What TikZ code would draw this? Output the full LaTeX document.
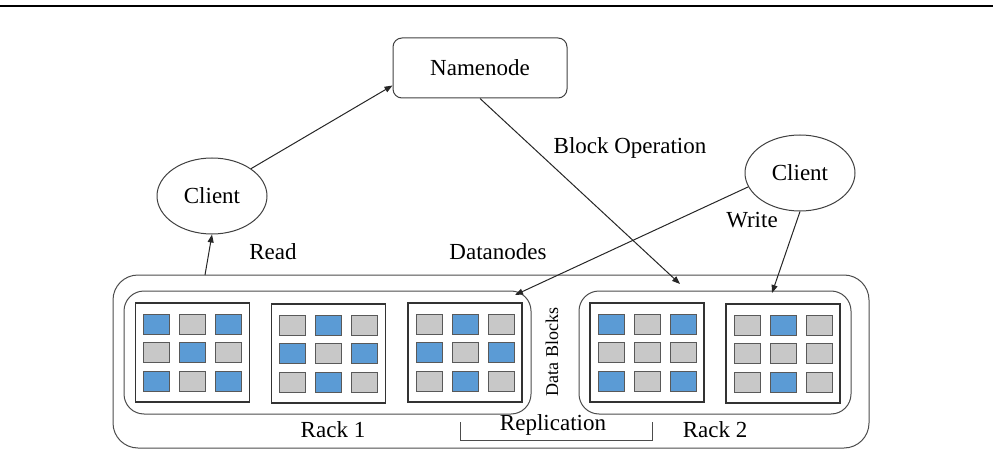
\documentclass[tikz,border=0pt]{standalone}
\usepackage{fontspec}
\setmainfont{Liberation Serif}
\usepackage{xcolor}
\usetikzlibrary{arrows.meta,shapes.geometric}
\definecolor{hb}{HTML}{5B9BD5}
\definecolor{hg}{HTML}{C8C8C8}
\tikzset{every picture/.style={line width=1pt}}
\tikzset{
  lbl/.style={font=\fontsize{23}{27}\selectfont, inner sep=0pt},
  arr/.style={draw=black!85, -{Triangle[length=8pt,width=6pt]}},
  client/.style={ellipse, draw=black!75, minimum width=110pt, minimum height=76pt, inner sep=0pt, font=\fontsize{23}{27}\selectfont},
  rack/.style={draw=black!70, rounded corners=20pt, inner sep=0pt, minimum height=123pt},
  server/.style={draw=black!80, line width=1.3pt, inner sep=0pt, minimum width=114pt, minimum height=99pt},
  blk/.style={draw=black!65, inner sep=0pt, minimum width=26pt, minimum height=20pt}
}

\begin{document}
\begin{tikzpicture}[x=1pt,y=-1pt]
\useasboundingbox (0,0) rectangle (993,457);
\draw[line width=2.2pt] (0,6) -- (993,6);
%
\node[draw=black!75, rounded corners=9pt, minimum width=174pt, minimum height=60pt, font=\fontsize{23}{27}\selectfont] (nn) at (480,68) {Namenode};
\node[client] (cl1) at (212,196) {Client};
\node[client] (cl2) at (800,173) {Client};
%
\node[draw=black!70, rounded corners=25pt, minimum width=756pt, minimum height=173pt] (hdfs) at (491,361.5) {};
\node[rack, minimum width=407pt] (rk1) at (327.5,352.5) {};
\node[rack, minimum width=272pt] (rk2) at (715,352.5) {};
%
\node[server] (s1) at (192.5,352.5) {};
\node[server] (s2) at (328.5,353.5) {};
\node[server] (s3) at (465,352.5) {};
\node[server] (s4) at (647,352.5) {};
\node[server] (s5) at (783,353.5) {};
%
\foreach \srv/\ka/\kb/\kc/\kd/\ke/\kf/\kg/\kh/\ki in {
  s1/hb/hg/hb/hg/hb/hg/hb/hg/hb,
  s2/hg/hb/hg/hb/hg/hb/hg/hb/hg,
  s3/hg/hb/hg/hb/hg/hb/hg/hb/hg,
  s4/hb/hg/hb/hg/hg/hg/hb/hg/hb,
  s5/hg/hb/hg/hg/hg/hg/hg/hb/hg}{
  \foreach \k [count=\n from 0] in {\ka,\kb,\kc,\kd,\ke,\kf,\kg,\kh,\ki}{
    \pgfmathsetmacro\dx{36*(mod(\n,3)-1)}
    \pgfmathsetmacro\dy{-28.5*(div(\n,3)-1)}
    \node[blk, fill=\k] (\srv b\n) at ([xshift=\dx pt, yshift=\dy pt]\srv.center) {};
  }
}
%
\node[lbl] (read) at (273,252) {Read};
\node[lbl] (dn) at (498,252) {Datanodes};
\node[lbl] (bop) at (630,148) {Block Operation};
\node[lbl] (wr) at (752,220) {Write};
\node[lbl] (r1) at (333,430) {Rack 1};
\node[lbl] (r2) at (715,430) {Rack 2};
\node[lbl] (rep) at (553,425) {Replication};
\node[font=\fontsize{18}{22}\selectfont, inner sep=0pt, rotate=90] (db) at (552,352) {Data Blocks};
%
\coordinate (rd) at (205,275);
\coordinate (bo) at (680,284);
\coordinate (w1) at (515,295);
\coordinate (w2) at (772,293);
\draw[arr] (rd) -- (cl1.south);
\draw[arr] (cl1.35) -- ([yshift=13pt]nn.south west);
\draw[arr] (nn.south) -- (bo);
\draw[arr] (cl2.195) -- (w1);
\draw[arr] (cl2.south) -- (w2);
%
\draw[black!70] (460,422) |- (652,440) -- (652,422);
\end{tikzpicture}
\end{document}
